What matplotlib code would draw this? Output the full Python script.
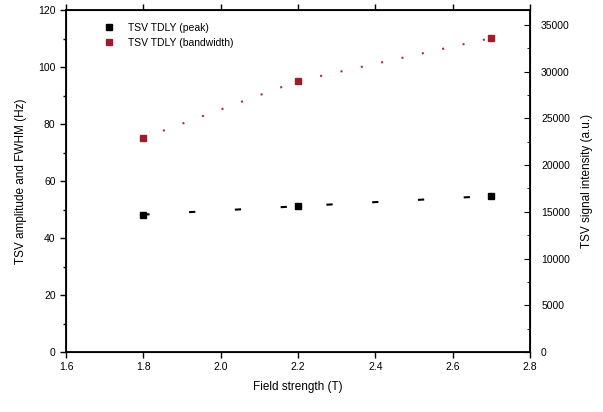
import matplotlib
matplotlib.use("Agg")
import matplotlib.pyplot as plt
from matplotlib.ticker import AutoMinorLocator

plt.rcParams['font.family'] = ['Liberation Sans', 'DejaVu Sans']

# data
field = [1.8, 2.2, 2.7]
peak = [14700, 15600, 16700]            # right axis (black)
bandwidth = [22900, 29000, 33600]       # right axis (red)
x_ticks = [1.6, 1.8, 2.0, 2.2, 2.4, 2.6, 2.8]
left_ticks = [0, 20, 40, 60, 80, 100, 120]
right_ticks = [0, 5000, 10000, 15000, 20000, 25000, 30000, 35000]

fig = plt.figure(figsize=(6.03, 4.12), dpi=100)
ax = fig.add_axes([66/603, 60/412, 464/603, 342/412])
ax.set_xlim(1.6, 2.8)
ax.set_ylim(0, 120)
ax.set_xticks(x_ticks)
ax.set_xticklabels([f"{v:.1f}" for v in x_ticks])
ax.set_yticks(left_ticks)
ax.yaxis.set_minor_locator(AutoMinorLocator(2))
ax.tick_params(axis='both', which='both', labelsize=7.5, width=1.0)
ax.tick_params(axis='x', which='major', direction='out', length=4, top=True)
ax.tick_params(axis='y', which='major', direction='out', length=4)
ax.tick_params(axis='y', which='minor', direction='out', length=2.5)
for s in ax.spines.values():
    s.set_linewidth(1.3)
ax.set_xlabel("Field strength (T)", fontsize=8.5, labelpad=6)
ax.set_ylabel("TSV amplitude and FWHM (Hz)", fontsize=8.5, labelpad=8)

ax2 = ax.twinx()
ax2.set_ylim(0, 36600)
ax2.set_yticks(right_ticks)
ax2.yaxis.set_minor_locator(AutoMinorLocator(2))
ax2.tick_params(axis='y', which='major', direction='in', length=4, labelsize=7.5, pad=8)
ax2.tick_params(axis='y', which='minor', direction='in', length=2.5)
ax2.set_ylabel("TSV signal intensity (a.u.)", fontsize=8.5, labelpad=8)

ax2.plot(field, peak, color='black', linestyle=(0, (3, 19)), linewidth=1.5, zorder=2)
ax2.plot(field, peak, linestyle='none', marker='s', markersize=5, color='black',
         label='TSV TDLY (peak)', zorder=3)
ax2.plot(field, bandwidth, color='#b0303c', linestyle=(0, (1, 9)), linewidth=1.5, zorder=2)
ax2.plot(field, bandwidth, linestyle='none', marker='s', markersize=5, color='#a01c2c',
         label='TSV TDLY (bandwidth)', zorder=3)

ax2.legend(loc='upper left', bbox_to_anchor=(0.06, 0.99), frameon=False, fontsize=7.5,
           handlelength=1.2, handletextpad=1.2, labelspacing=0.5)

fig.savefig("out.png", dpi=100)
